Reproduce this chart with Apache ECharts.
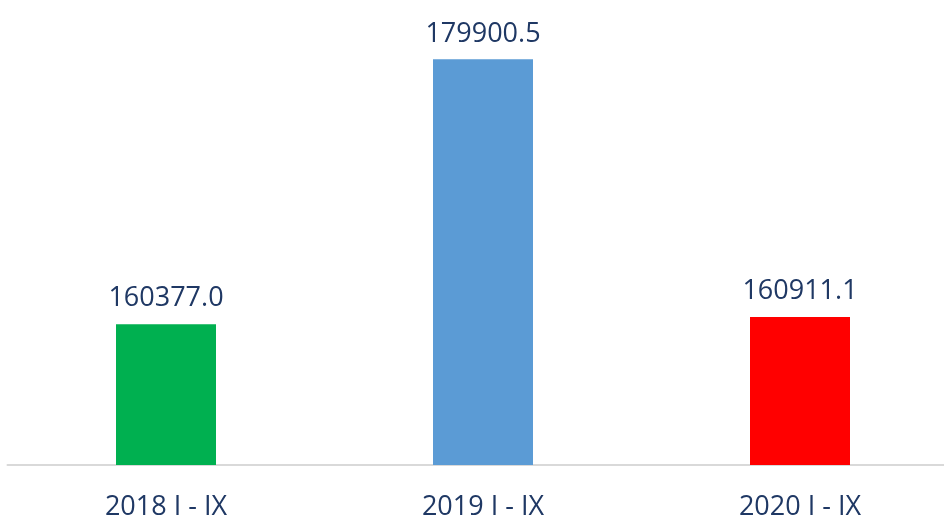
<!DOCTYPE html>
<html>
<head>
<meta charset="utf-8">
<script src="https://cdn.jsdelivr.net/npm/echarts@6/dist/echarts.min.js"></script>
<style>
  html, body { margin: 0; padding: 0; background: #fff; }
  #chart { width: 944px; height: 519px; }
</style>
</head>
<body>
<div id="chart"></div>
<script>
  // period labels and values
  const periods = ['2018 I - IX', '2019 I - IX', '2020 I - IX'];
  const values = [160377.0, 179900.5, 160911.1];
  const barColors = ['#00B050', '#5B9BD5', '#FF0000'];

  const myChart = echarts.init(document.getElementById('chart'));

  const option = {
    animation: false,
    grid: {
      left: 7.5,
      width: 951,
      top: 58,
      bottom: 54,
      outerBoundsMode: 'none',
    },
    xAxis: {
      type: 'category',
      data: periods,
      axisLine: { lineStyle: { color: '#D9D9D9', width: 2 } },
      axisTick: { show: false },
      axisLabel: {
        color: '#1F3864',
        fontFamily: 'Open Sans',
        fontSize: 27,
        margin: 29,
      },
    },
    yAxis: {
      type: 'value',
      min: 150000,
      max: 180000,
      show: false,
      splitLine: { show: false },
    },
    series: [
      {
        type: 'bar',
        barWidth: 100,
        data: values.map((v, i) => ({ value: v, itemStyle: { color: barColors[i] } })),
        label: {
          show: true,
          position: 'top',
          distance: 12,
          color: '#1F3864',
          fontFamily: 'Open Sans',
          fontSize: 27,
          formatter: (p) => p.value.toFixed(1),
        },
      },
    ],
  };

  myChart.setOption(option);
</script>
</body>
</html>
